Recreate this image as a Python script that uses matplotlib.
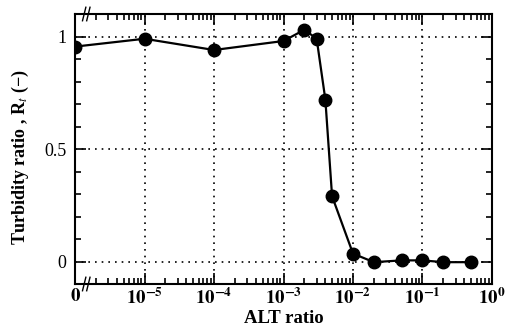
import matplotlib
matplotlib.use("Agg")
import matplotlib.pyplot as plt
from matplotlib.ticker import FixedLocator, LogLocator, MultipleLocator, NullFormatter

# Data (x=0 plotted at 1e-6 position on broken log axis)
alt_ratio = [1e-6, 1e-5, 1e-4, 1e-3, 2e-3, 3e-3, 4e-3, 5e-3, 1e-2, 2e-2, 5e-2, 1e-1, 2e-1, 5e-1]
turbidity = [0.955, 0.99, 0.94, 0.98, 1.03, 0.99, 0.72, 0.29, 0.035, -0.003, 0.005, 0.005, -0.003, -0.003]
xtick_pos = [1e-6, 1e-5, 1e-4, 1e-3, 1e-2, 1e-1, 1e0]
xtick_labels = ["$\\mathbf{0}$", "$\\mathbf{10^{-5}}$", "$\\mathbf{10^{-4}}$", "$\\mathbf{10^{-3}}$",
                "$\\mathbf{10^{-2}}$", "$\\mathbf{10^{-1}}$", "$\\mathbf{10^{0}}$"]
ytick_pos = [0, 0.5, 1]
ytick_labels = ["0", "0.5", "1"]

plt.rcParams['font.family'] = ['Liberation Serif', 'DejaVu Serif']
plt.rcParams['mathtext.fontset'] = 'stix'

fig = plt.figure(figsize=(5.06, 3.26), dpi=100)
ax = fig.add_axes([75/506, 1 - 284/326, (492-75)/506, (284-14)/326])

ax.plot(alt_ratio, turbidity, '-', color='black', lw=1.6, marker='o', ms=9,
        markerfacecolor='black', markeredgecolor='black', zorder=3)

ax.set_xscale('log')
ax.set_xlim(1e-6, 1e0)
ax.set_ylim(-0.1, 1.1)

ax.xaxis.set_major_locator(FixedLocator(xtick_pos))
ax.set_xticklabels(xtick_labels, fontsize=13.5)
ax.xaxis.set_minor_locator(LogLocator(base=10, subs=range(2, 10), numticks=20))
ax.xaxis.set_minor_formatter(NullFormatter())
ax.yaxis.set_major_locator(FixedLocator(ytick_pos))
ax.set_yticklabels(ytick_labels, fontsize=13)
ax.yaxis.set_minor_locator(MultipleLocator(0.1))

ax.tick_params(which='both', direction='in', top=True, right=True, width=1.2)
ax.tick_params(which='major', length=8)
ax.tick_params(which='minor', length=4)
ax.tick_params(axis='x', which='major', pad=3)
ax.tick_params(axis='y', which='major', pad=6)
for s in ax.spines.values():
    s.set_linewidth(1.5)

for xv in xtick_pos[1:-1]:
    ax.axvline(xv, color='black', ls=(0, (1, 3)), lw=1.2, zorder=1)
for yv in ytick_pos:
    ax.axhline(yv, color='black', ls=(0, (1, 3)), lw=1.2, zorder=1)

# axis break marks
for yb in (0, 1):
    for dx in (0.022, 0.032):
        ax.plot([dx - 0.004, dx + 0.004], [yb - 0.025, yb + 0.025], transform=ax.transAxes,
                color='black', lw=1.0, clip_on=False, zorder=5)

ax.set_xlabel("ALT ratio", fontsize=13.5, fontweight='bold')
ax.xaxis.set_label_coords(0.5, -0.097)
ax.xaxis.label.set_va('top')
ax.set_ylabel("Turbidity ratio , R$_t$ (−)", fontsize=13, fontweight='bold')
ax.yaxis.set_label_coords(-0.105, 0.47)

fig.savefig("out.png", dpi=100)
